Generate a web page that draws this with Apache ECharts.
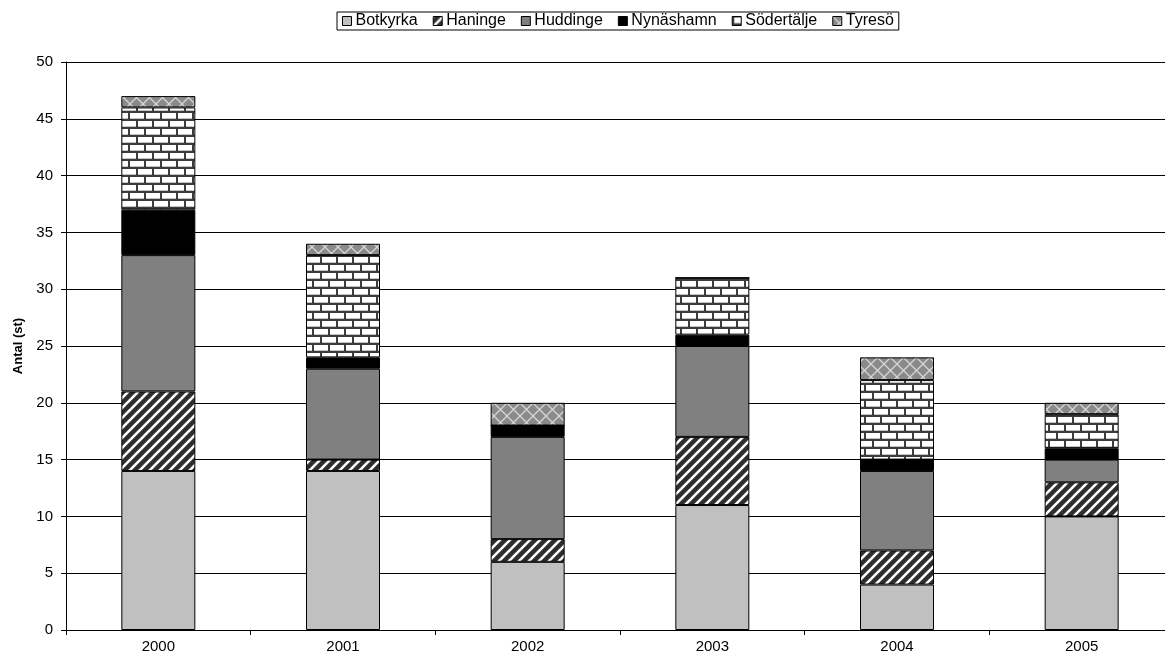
<!DOCTYPE html>
<html>
<head>
<meta charset="utf-8">
<script src="https://cdn.jsdelivr.net/npm/echarts@6/dist/echarts.min.js"></script>
<style>
  html, body { margin: 0; padding: 0; background: #fff; }
  #chart { width: 1165px; height: 661px; }
</style>
</head>
<body>
<div id="chart"></div>
<script>
// Antal per år och kommun (staplade)
const years      = ['2000', '2001', '2002', '2003', '2004', '2005'];
const botkyrka   = [14, 14, 6, 11, 4, 10];
const haninge    = [7, 1, 2, 6, 3, 3];
const huddinge   = [12, 8, 9, 8, 7, 2];
const nynashamn  = [4, 1, 1, 1, 1, 1];
const sodertalje = [9, 9, 0, 5, 7, 3];
const tyreso     = [1, 1, 2, 0, 2, 1];
const yMin = 0, yMax = 50, yStep = 5;

// Small canvas tiles used as repeating fills
function tile(w, h, draw) {
  const c = document.createElement('canvas');
  c.width = w; c.height = h;
  draw(c.getContext('2d'), w, h);
  return { image: c, repeat: 'repeat' };
}

const stripeFill = tile(10, 10, (g, w, h) => {
  g.fillStyle = '#2e2e2e';
  g.fillRect(0, 0, w, h);
  g.strokeStyle = '#ffffff';
  g.lineWidth = 2.6;
  for (const o of [-w, 0, w]) {
    g.beginPath();
    g.moveTo(o - 1, h + 1);
    g.lineTo(o + w + 1, -1);
    g.stroke();
  }
});

const brickFill = tile(16, 16, (g, w, h) => {
  g.fillStyle = '#3c3c3c';
  g.fillRect(0, 0, w, h);
  g.fillStyle = '#ffffff';
  g.fillRect(2, 1, 14, 6);
  g.fillRect(10, 9, 14, 6);
  g.fillRect(-6, 9, 14, 6);
  g.fillStyle = '#c4c4c4';
  g.fillRect(2, 6, 14, 1);
  g.fillRect(10, 14, 14, 1);
  g.fillRect(-6, 14, 14, 1);
});

const diamondFill = tile(13, 13, (g, w, h) => {
  g.fillStyle = '#8a8a8a';
  g.fillRect(0, 0, w, h);
  g.strokeStyle = '#d6d6d6';
  g.lineWidth = 1.3;
  g.beginPath();
  g.moveTo(0, 0); g.lineTo(w, h);
  g.moveTo(0, h); g.lineTo(w, 0);
  g.stroke();
});

function barSeries(name, data, fill) {
  return {
    name: name,
    type: 'bar',
    stack: 'total',
    data: data,
    barWidth: 74,
    itemStyle: { color: fill, borderColor: '#000', borderWidth: 1 },
    emphasis: { disabled: true }
  };
}

const chart = echarts.init(document.getElementById('chart'), null, { renderer: 'canvas' });
chart.setOption({
  animation: false,
  backgroundColor: '#fff',
  textStyle: { fontFamily: 'Liberation Sans, Arial, sans-serif', color: '#000' },
  legend: {
    top: 12,
    left: 337,
    itemWidth: 9,
    itemHeight: 9,
    itemGap: 15,
    padding: [1, 5, 1, 5],
    borderColor: '#000',
    borderWidth: 1,
    icon: 'rect',
    itemStyle: { borderColor: '#000', borderWidth: 1 },
    textStyle: { fontSize: 16, color: '#000', padding: [0, 0, 0, -1] },
    data: ['Botkyrka', 'Haninge', 'Huddinge', 'Nynäshamn', 'Södertälje', 'Tyresö']
  },
  grid: { left: 66, top: 62, width: 1108, height: 568, outerBoundsMode: 'none' },
  xAxis: {
    type: 'category',
    data: years,
    boundaryGap: true,
    axisLine: { lineStyle: { color: '#000', width: 1 } },
    axisTick: { show: true, length: 5, alignWithLabel: false, lineStyle: { color: '#000' } },
    axisLabel: { fontSize: 15, color: '#000', margin: 9 }
  },
  yAxis: {
    type: 'value',
    min: yMin,
    max: yMax,
    interval: yStep,
    name: 'Antal (st)',
    nameLocation: 'middle',
    nameGap: 41,
    nameTextStyle: { fontSize: 13, fontWeight: 'bold', color: '#000' },
    axisLine: { show: true, lineStyle: { color: '#000', width: 1 } },
    axisTick: { show: true, length: 5, lineStyle: { color: '#000' } },
    axisLabel: { fontSize: 15, color: '#000', margin: 13 },
    splitLine: { show: true, lineStyle: { color: '#000', width: 1 } }
  },
  series: [
    barSeries('Botkyrka', botkyrka, '#c0c0c0'),
    barSeries('Haninge', haninge, stripeFill),
    barSeries('Huddinge', huddinge, '#808080'),
    barSeries('Nynäshamn', nynashamn, '#000000'),
    barSeries('Södertälje', sodertalje, brickFill),
    barSeries('Tyresö', tyreso, diamondFill)
  ]
});
</script>
</body>
</html>
